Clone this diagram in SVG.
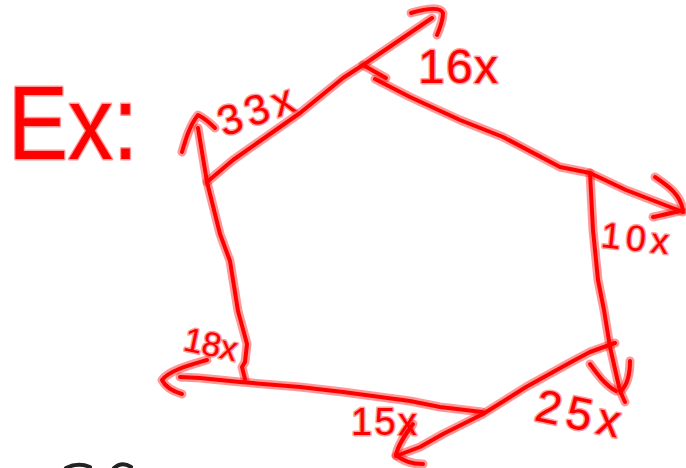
<svg xmlns="http://www.w3.org/2000/svg" width="686" height="468" viewBox="0 0 686 468">
<style>
.halo{fill:none;stroke:#ff0000;stroke-opacity:0.4;stroke-width:9;stroke-linecap:round;stroke-linejoin:round}
.core{fill:none;stroke:#ff0000;stroke-width:4;stroke-linecap:round;stroke-linejoin:round}
.lbl{font-family:"Liberation Sans",Arial,sans-serif;fill:#ff0000;stroke:#ff0000;stroke-opacity:0.4;stroke-width:3;paint-order:stroke;stroke-linejoin:round}
.dark{fill:none;stroke:#222;stroke-width:4;stroke-linecap:round}
</style>
<defs>
<path id="e1" d="M207,182 L233,160 L300,113 L343,78 L363,65 L432,18"/>
<path id="h1" d="M411,13 C425,9 440,6 443,13 C443,20 440,28 437,35"/>
<path id="t1" d="M363,65 L386,78"/>
<path id="e2" d="M375,79 L410,97 L460,120 L503,137 L560,167 L590,173 L626,190 L683,212"/>
<path id="h2" d="M655,177 C670,187 680,195 683,210 C673,213 662,215 653,217"/>
<path id="e3" d="M590,173 L593,230 L598,280 L604,310 L610,347 L620,391 L625,402"/>
<path id="h3" d="M590,364 C598,375 605,385 616,391 M630,361 C630,375 627,385 621,391"/>
<path id="e4" d="M615,343 L590,352 L573,361 L526,387 L483,414 L443,434 L420,447 L396,456"/>
<path id="h4" d="M413,424 C405,435 398,445 396,455 C404,462 414,464 423,464"/>
<path id="e5" d="M482,412 L440,407 L410,401 L343,392 L300,387 L240,382 L200,378 L180,377"/>
<path id="h5" d="M207,360 C190,365 170,370 162,380 C166,388 175,392 182,394"/>
<path id="e6" d="M245,379 L242,367 L245,362 L247,344 L238,311 L230,261 L220,234 L207,182 L198,128"/>
<path id="h6" d="M182,152 C186,138 190,125 198,115 C204,118 210,123 215,128"/>
</defs>
<g id="connectors">
<g id="halos" class="halo">
<use href="#e1"/><use href="#h1"/><use href="#t1"/>
<use href="#e2"/><use href="#h2"/>
<use href="#e3"/><use href="#h3"/>
<use href="#e4"/><use href="#h4"/>
<use href="#e5"/><use href="#h5"/>
<use href="#e6"/><use href="#h6"/>
</g>
<g id="cores" class="core">
<use href="#e1"/><use href="#h1"/><use href="#t1"/>
<use href="#e2"/><use href="#h2"/>
<use href="#e3"/><use href="#h3"/>
<use href="#e4"/><use href="#h4"/>
<use href="#e5"/><use href="#h5"/>
<use href="#e6"/><use href="#h6"/>
</g>
</g>
<g id="title"><text class="lbl" x="8" y="159" font-size="104" textLength="130" lengthAdjust="spacingAndGlyphs">Ex:</text></g>
<g id="label-33x"><text class="lbl" x="224" y="137" font-size="42" textLength="78" lengthAdjust="spacing" transform="rotate(-20 224 137)">33x</text></g>
<g id="label-16x"><text class="lbl" x="418" y="83" font-size="48" textLength="80" lengthAdjust="spacing">16x</text></g>
<g id="label-10x"><text class="lbl" x="600" y="247" font-size="36" textLength="68" lengthAdjust="spacing" transform="rotate(6 600 247)">10x</text></g>
<g id="label-18x"><text class="lbl" x="182" y="350" font-size="34" textLength="54" lengthAdjust="spacing" transform="rotate(12 182 350)">18x</text></g>
<g id="label-15x"><text class="lbl" x="351" y="435" font-size="38" textLength="66" lengthAdjust="spacing">15x</text></g>
<g id="label-25x"><text class="lbl" x="533" y="420" font-size="46" textLength="86" lengthAdjust="spacing" transform="rotate(12 533 420)">25x</text></g>
<g id="cutoff">
<path class="dark" d="M66,468 Q78,462 90,467"/>
<path class="dark" d="M114,468 Q122,461 131,467"/>
</g>
</svg>
